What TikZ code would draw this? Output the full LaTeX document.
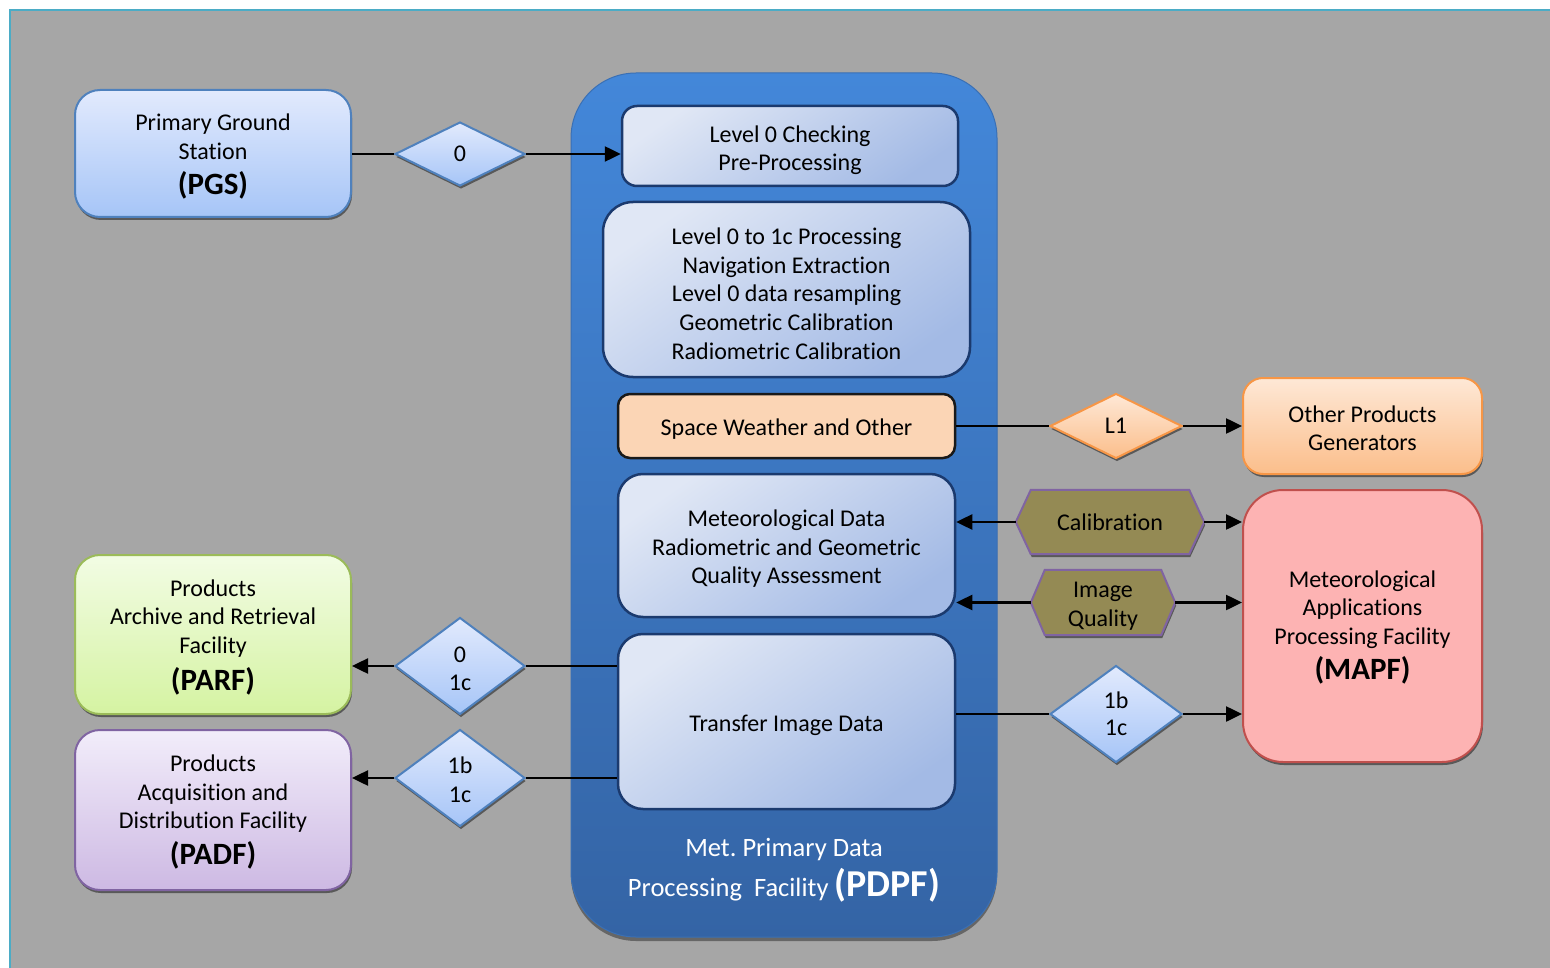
\documentclass[tikz,border=0pt]{standalone}
\usepackage{fontspec}
\setmainfont{Carlito}[Ligatures=NoCommon]
\usetikzlibrary{shapes.geometric,shadows,calc,arrows.meta,backgrounds}
\frenchspacing

\definecolor{sheetGray}{HTML}{A6A6A6}
\definecolor{frameTeal}{HTML}{4BACC6}
\definecolor{blueEdge}{HTML}{4F81BD}
\definecolor{blueTop}{HTML}{E2EAFD}
\definecolor{blueBot}{HTML}{A6C5F7}
\definecolor{pdpfTop}{HTML}{4387D9}
\definecolor{pdpfBot}{HTML}{3464A5}
\definecolor{pdpfEdge}{HTML}{3A70B5}
\definecolor{innerEdge}{HTML}{1B3A6E}
\definecolor{innerTop}{HTML}{E0E7F5}
\definecolor{innerBot}{HTML}{A3BAE5}
\definecolor{peachFill}{HTML}{FBD5B5}
\definecolor{orangeEdge}{HTML}{F79646}
\definecolor{orangeTop}{HTML}{FEE8D6}
\definecolor{orangeBot}{HTML}{FBBE8B}
\definecolor{oliveFill}{HTML}{948A54}
\definecolor{purpleEdge}{HTML}{8064A2}
\definecolor{pinkFill}{HTML}{FDB3B3}
\definecolor{redEdge}{HTML}{C0504D}
\definecolor{greenEdge}{HTML}{9BBB59}
\definecolor{greenTop}{HTML}{F2FCE4}
\definecolor{greenBot}{HTML}{D5F3A2}
\definecolor{lilacTop}{HTML}{F2EDFA}
\definecolor{lilacBot}{HTML}{CDB9E3}

\newcommand\txtnorm{\fontsize{24}{28.6}\selectfont}
\newcommand\txtacro{\fontsize{31}{34}\selectfont\bfseries}
% invisible strut that lowers a text block inside its box
\newcommand\drop[1]{\rule{0pt}{#1pt}}

\begin{document}
\begin{tikzpicture}[x=1pt,y=-1pt,
  conn/.style={line width=2.5pt,black},
  arr/.style={conn,-{Triangle[length=16pt,width=15pt]}},
  softshadow/.style={drop shadow={shadow xshift=1pt,shadow yshift=-3pt,fill=black!75,opacity=0.75}},
  facility/.style={rectangle,rounded corners=25pt,line width=2pt,font=\txtnorm,
    align=center,inner sep=0pt,softshadow},
  bluefac/.style={facility,draw=blueEdge,top color=blueTop,bottom color=blueBot},
  greenfac/.style={facility,draw=greenEdge,top color=greenTop,bottom color=greenBot},
  lilacfac/.style={facility,draw=purpleEdge,top color=lilacTop,bottom color=lilacBot},
  orangefac/.style={facility,rounded corners=20pt,draw=orangeEdge,top color=orangeTop,bottom color=orangeBot},
  pinkfac/.style={facility,rounded corners=40pt,draw=redEdge,fill=pinkFill},
  task/.style={rectangle,rounded corners=25pt,line width=2.5pt,draw=innerEdge,
    top color=innerTop,bottom color=innerBot,shading angle=35,
    font=\txtnorm,align=center,inner sep=0pt},
  gate/.style={diamond,line width=2pt,font=\txtnorm,align=center,inner sep=0pt,
    minimum width=130,softshadow},
  bluegate/.style={gate,draw=blueEdge,top color=blueTop,bottom color=blueBot},
  orangegate/.style={gate,draw=orangeEdge,top color=orangeTop,bottom color=orangeBot},
  hexlabel/.style={rectangle,font=\txtnorm,align=center,inner sep=0pt},
  hexbody/.style={draw=purpleEdge,line width=2pt,fill=oliveFill,softshadow}
]
\useasboundingbox (0,0) rectangle (1550,968);

% sheet
\begin{scope}[on background layer]
  \fill[sheetGray] (10,10) rectangle (1552,970);
  \draw[frameTeal,line width=2pt] (10,970) -- (10,10) -- (1552,10);
\end{scope}

% processing facility container
\node[rectangle,rounded corners=65pt,minimum width=426,minimum height=864,
  draw=pdpfEdge,line width=1pt,top color=pdpfTop,bottom color=pdpfBot,
  drop shadow={shadow xshift=0pt,shadow yshift=-4pt,fill=black!70,opacity=0.7}]
  (pdpf) at (784,505) {};
\node[font=\fontsize{26.5}{30}\selectfont,text=white,align=center,inner sep=0pt]
  (pdpftxt) at (784,870)
  {Met. Primary Data\\[7pt]Processing\ \ Facility {\fontsize{38}{40}\selectfont\bfseries (PDPF)}};

% tasks inside the facility
\node[task,rounded corners=15pt,minimum width=336,minimum height=80] (lzero) at (790,146)
  {\drop{25}Level 0 Checking\\Pre-Processing};
\node[task,rounded corners=30pt,minimum width=367,minimum height=175] (lproc) at (786.5,289.5)
  {\drop{25}Level 0 to 1c Processing\\Navigation Extraction\\Level 0 data resampling\\Geometric Calibration\\Radiometric Calibration};
\node[rectangle,rounded corners=12pt,line width=2.5pt,draw=black!90,fill=peachFill,
  font=\txtnorm,inner sep=0pt,minimum width=337,minimum height=64] (swx) at (786.5,426)
  {\drop{23}Space Weather and Other};
\node[task,minimum width=337,minimum height=143] (mdq) at (786.5,545.5)
  {\drop{23}Meteorological Data\\Radiometric and Geometric\\Quality Assessment};
\node[task,minimum width=337,minimum height=175] (tid) at (786.5,721.5)
  {\drop{25}Transfer Image Data};

% external facilities
\node[bluefac,minimum width=276,minimum height=127] (pgs) at (213,153.5)
  {\drop{23}Primary Ground\\Station\\[7pt]{\txtacro (PGS)}};
\node[greenfac,minimum width=276,minimum height=159] (parf) at (213,634.5)
  {\drop{22}Products\\Archive and Retrieval\\Facility\\[8pt]{\txtacro (PARF)}};
\node[lilacfac,minimum width=276,minimum height=160] (padf) at (213,810)
  {\drop{21}Products\\Acquisition and\\Distribution Facility\\[7pt]{\txtacro (PADF)}};
\node[orangefac,minimum width=239,minimum height=96] (opg) at (1362.5,426)
  {\drop{21}Other Products\\Generators};
\node[pinkfac,minimum width=239,minimum height=272] (mapf) at (1362.5,626)
  {\drop{19}Meteorological\\Applications\\Processing Facility\\[6pt]{\txtacro (MAPF)}};

% data level gates
\node[bluegate,minimum height=64] (gzero) at (460,154) {0};
\node[bluegate,minimum height=97] (gparf) at (460,666) {\drop{21}0\\1c};
\node[bluegate,minimum height=97] (gpadf) at (460,778) {\drop{20}1b\\1c};
\node[orangegate,minimum width=132,minimum height=65] (gl1) at (1116,426) {L1};
\node[bluegate,minimum width=132,minimum height=97] (gmapf) at (1116,714) {1b\\[-2pt]1c};

% feedback products
\node[hexlabel,minimum width=188,minimum height=64] (cal) at (1110,522) {Calibration};
\node[hexlabel,minimum width=144,minimum height=65] (iq) at (1103,602.5) {\drop{23}Image\\Quality};
\begin{scope}[on background layer]
  \draw[hexbody] (cal.west) -- ($(cal.north west)+(15,0)$) -- ($(cal.north east)+(-15,0)$)
    -- (cal.east) -- ($(cal.south east)+(-15,0)$) -- ($(cal.south west)+(15,0)$) -- cycle;
  \draw[hexbody] (iq.west) -- ($(iq.north west)+(14,0)$) -- ($(iq.north east)+(-14,0)$)
    -- (iq.east) -- ($(iq.south east)+(-14,0)$) -- ($(iq.south west)+(14,0)$) -- cycle;
\end{scope}

% connectors
\draw[conn] (pgs.east |- gzero.west) -- (gzero.west);
\draw[arr] (gzero.east) -- (gzero.east -| lzero.west);

\draw[conn] (swx.east |- gl1.west) -- (gl1.west);
\draw[arr] (gl1.east) -- (gl1.east -| opg.west);

\draw[arr] (cal.west) -- (cal.west -| mdq.east);
\draw[arr] (cal.east) -- (cal.east -| mapf.west);
\draw[arr] (iq.west) -- (iq.west -| mdq.east);
\draw[arr] (iq.east) -- (iq.east -| mapf.west);

\draw[conn] (tid.east |- gmapf.west) -- (gmapf.west);
\draw[arr] (gmapf.east) -- (gmapf.east -| mapf.west);

\draw[conn] (tid.west |- gparf.east) -- (gparf.east);
\draw[arr] (gparf.west) -- (gparf.west -| parf.east);
\draw[conn] (tid.west |- gpadf.east) -- (gpadf.east);
\draw[arr] (gpadf.west) -- (gpadf.west -| padf.east);
\end{tikzpicture}
\end{document}
